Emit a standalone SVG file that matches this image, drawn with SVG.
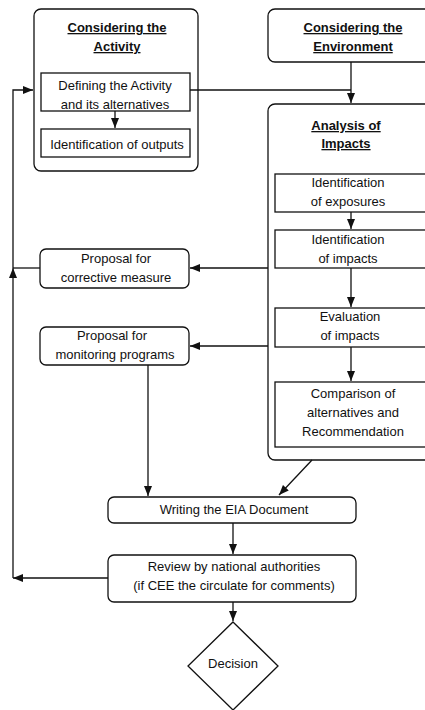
<svg xmlns="http://www.w3.org/2000/svg" width="425" height="710" viewBox="0 0 425 710">
<style>
.b{fill:#fff;stroke:#111;stroke-width:1.3}
.t{font-family:"Liberation Sans",Arial,sans-serif;font-size:13px;fill:#111;text-anchor:middle}
.h{font-weight:bold;text-decoration:underline}
.c{fill:none;stroke:#111;stroke-width:1.3}
</style>
<defs>
<marker id="a" viewBox="0 0 10 8" refX="10" refY="4" markerWidth="10" markerHeight="8" markerUnits="userSpaceOnUse" orient="auto">
<path d="M0,0 L10,4 L0,8 Z" fill="#111"/>
</marker>
</defs>
<rect width="425" height="710" fill="#fff"/>
<g id="activity">
<rect class="b" x="34" y="9" width="164" height="162" rx="7"/>
<text class="t h" x="117" y="32">Considering the</text>
<text class="t h" x="117" y="51">Activity</text>
</g>
<g id="defining">
<rect class="b" x="41" y="73" width="149" height="38"/>
<text class="t" x="115" y="90">Defining the Activity</text>
<text class="t" x="115" y="109">and its alternatives</text>
</g>
<g id="outputs">
<rect class="b" x="41" y="129" width="149" height="28"/>
<text class="t" x="117" y="149">Identification of outputs</text>
</g>
<g id="environment">
<rect class="b" x="268" y="9" width="180" height="53" rx="7"/>
<text class="t h" x="353" y="32">Considering the</text>
<text class="t h" x="353" y="51">Environment</text>
</g>
<g id="analysis">
<rect class="b" x="268" y="104" width="180" height="356" rx="7"/>
<text class="t h" x="346" y="130">Analysis of</text>
<text class="t h" x="346" y="148">Impacts</text>
</g>
<g id="exposures">
<rect class="b" x="275" y="174" width="165" height="38"/>
<text class="t" x="348" y="187">Identification</text>
<text class="t" x="348" y="206">of exposures</text>
</g>
<g id="impacts">
<rect class="b" x="275" y="230" width="165" height="38"/>
<text class="t" x="348" y="244">Identification</text>
<text class="t" x="348" y="263">of impacts</text>
</g>
<g id="evaluation">
<rect class="b" x="275" y="308" width="165" height="39"/>
<text class="t" x="350" y="321">Evaluation</text>
<text class="t" x="350" y="340">of impacts</text>
</g>
<g id="comparison">
<rect class="b" x="275" y="382" width="165" height="65"/>
<text class="t" x="353" y="398">Comparison of</text>
<text class="t" x="353" y="417">alternatives and</text>
<text class="t" x="353" y="436">Recommendation</text>
</g>
<g id="corrective">
<rect class="b" x="40" y="249" width="149" height="39" rx="6"/>
<text class="t" x="116" y="263">Proposal for</text>
<text class="t" x="116" y="282">corrective measure</text>
</g>
<g id="monitoring">
<rect class="b" x="40" y="327" width="149" height="38" rx="6"/>
<text class="t" x="112" y="340">Proposal for</text>
<text class="t" x="115" y="359">monitoring programs</text>
</g>
<g id="writing">
<rect class="b" x="108" y="497" width="248" height="26" rx="6"/>
<text class="t" x="234" y="514">Writing the EIA Document</text>
</g>
<g id="review">
<rect class="b" x="108" y="555" width="248" height="47" rx="6"/>
<text class="t" x="234" y="571">Review by national authorities</text>
<text class="t" x="234" y="590">(if CEE the circulate for comments)</text>
</g>
<g id="decision">
<path class="b" d="M233,622 L278,666 L233,710 L188,666 Z"/>
<text class="t" x="233" y="668">Decision</text>
</g>
<g id="connectors">
<path class="c" d="M115,111 V128" marker-end="url(#a)"/>
<path class="c" d="M190,90 H351"/>
<path class="c" d="M351,62 V103" marker-end="url(#a)"/>
<path class="c" d="M351,212 V229" marker-end="url(#a)"/>
<path class="c" d="M351,268 V307" marker-end="url(#a)"/>
<path class="c" d="M351,347 V381" marker-end="url(#a)"/>
<path class="c" d="M268,268 H190" marker-end="url(#a)"/>
<path class="c" d="M268,346 H190" marker-end="url(#a)"/>
<path class="c" d="M148,365 V496" marker-end="url(#a)"/>
<path class="c" d="M312,460 L279,495" marker-end="url(#a)"/>
<path class="c" d="M233,523 V554" marker-end="url(#a)"/>
<path class="c" d="M233,602 V621" marker-end="url(#a)"/>
<path class="c" d="M108,578 H13" marker-end="url(#a)"/>
<path class="c" d="M13,578 V268" marker-end="url(#a)"/>
<path class="c" d="M40,268 H13"/>
<path class="c" d="M13,268 V90 H33" marker-end="url(#a)"/>
</g>
</svg>
